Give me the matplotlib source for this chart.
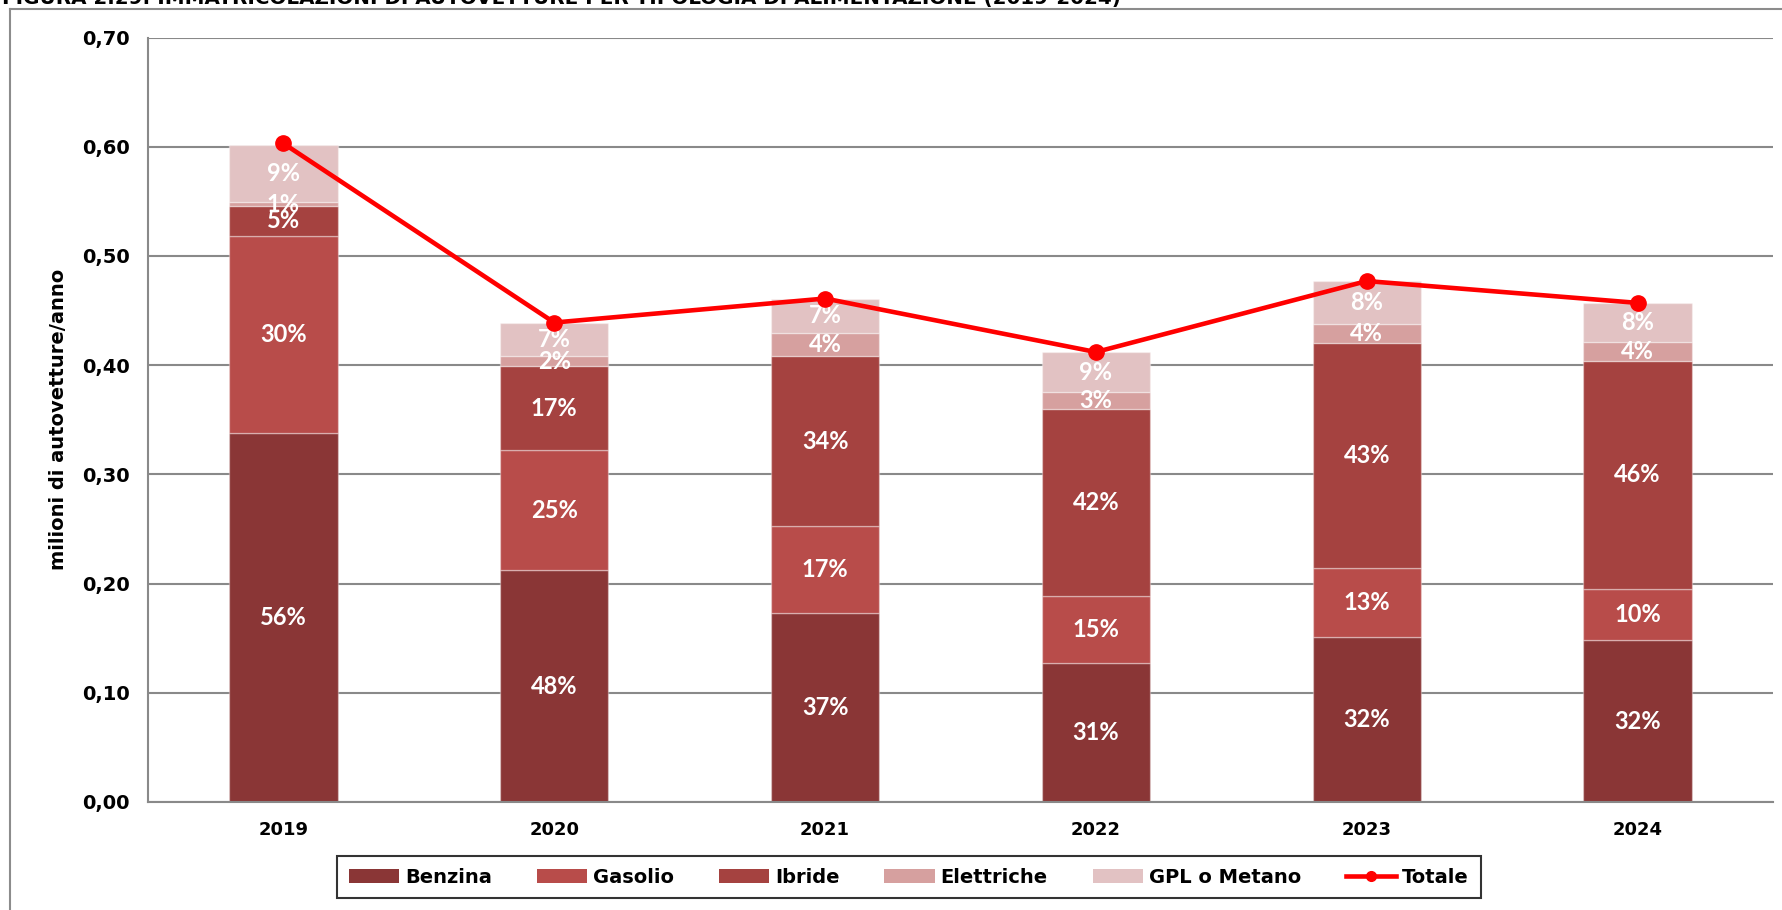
import numpy as np
import matplotlib.pyplot as plt
from matplotlib.patches import Patch
from matplotlib.lines import Line2D
from matplotlib.ticker import FuncFormatter

anni = ['2019', '2020', '2021', '2022', '2023', '2024']

# milioni di autovetture per alimentazione
benzina = [0.338, 0.212, 0.173, 0.127, 0.151, 0.148]
gasolio = [0.180, 0.110, 0.080, 0.062, 0.063, 0.047]
ibride = [0.028, 0.077, 0.155, 0.171, 0.206, 0.209]
elettriche = [0.003, 0.009, 0.021, 0.015, 0.018, 0.017]
gpl_metano = [0.053, 0.031, 0.032, 0.037, 0.039, 0.036]
totale = [0.603, 0.439, 0.461, 0.412, 0.477, 0.457]

pct_benzina = ['56%', '48%', '37%', '31%', '32%', '32%']
pct_gasolio = ['30%', '25%', '17%', '15%', '13%', '10%']
pct_ibride = ['5%', '17%', '34%', '42%', '43%', '46%']
pct_elettriche = ['1%', '2%', '4%', '3%', '4%', '4%']
pct_gpl = ['9%', '7%', '7%', '9%', '8%', '8%']

serie = [
    ('Benzina', benzina, pct_benzina, '#8a3636'),
    ('Gasolio', gasolio, pct_gasolio, '#b84c4a'),
    ('Ibride', ibride, pct_ibride, '#a54240'),
    ('Elettriche', elettriche, pct_elettriche, '#d6a09f'),
    ('GPL o Metano', gpl_metano, pct_gpl, '#e2c2c3'),
]

plt.rcParams['font.family'] = 'DejaVu Sans'

fig = plt.figure(figsize=(17.82, 9.10), dpi=100)
ax = fig.add_axes([148 / 1782, 1 - 802 / 910, (1773 - 148) / 1782, (802 - 37.5) / 910])

x = np.arange(len(anni))
bottom = np.zeros(len(anni))
for nome, valori, etichette, colore in serie:
    valori = np.array(valori)
    ax.bar(x, valori, width=0.4, bottom=bottom, color=colore,
           edgecolor=(1, 1, 1, 0.35), linewidth=1, zorder=2)
    for xi, b, v, et in zip(x, bottom, valori, etichette):
        ax.text(xi, b + v / 2, et, ha='center', va='center', color='white',
                fontsize=17, fontweight='bold', family=['Lato', 'DejaVu Sans'], zorder=4)
    bottom = bottom + valori

ax.plot(x, totale, color='#ff0000', lw=3.3, marker='o', markersize=11, zorder=5)

ax.set_xlim(-0.5, len(anni) - 0.5)
ax.set_ylim(0, 0.70)
ax.set_yticks(np.arange(0, 0.71, 0.1))
ax.yaxis.set_major_formatter(FuncFormatter(lambda v, p: f'{v:.2f}'.replace('.', ',')))
ax.set_xticks(x)
ax.set_xticklabels(anni)
ax.tick_params(axis='y', length=0, pad=13, labelsize=14)
ax.tick_params(axis='x', length=0, pad=14, labelsize=13)
for lab in ax.get_xticklabels() + ax.get_yticklabels():
    lab.set_fontweight('bold')

ax.grid(axis='y', color='#898989', lw=1.5, zorder=0)
ax.set_axisbelow(True)
for s in ['top', 'right']:
    ax.spines[s].set_visible(False)
for s in ['left', 'bottom']:
    ax.spines[s].set_color('#898989')
    ax.spines[s].set_linewidth(1.5)

ax.set_ylabel('milioni di autovetture/anno', fontsize=14, fontweight='bold', labelpad=10)

handles = [Patch(facecolor=c, label=n) for n, _, _, c in serie]
handles.append(Line2D([], [], color='#ff0000', lw=3.3, marker='o', markersize=7, label='Totale'))
leg = fig.legend(handles=handles, loc='center', bbox_to_anchor=(0.510, 0.036), ncol=6,
                 frameon=True, fancybox=False, edgecolor='black',
                 handlelength=2.6, handleheight=0.7, columnspacing=2.3, handletextpad=0.3,
                 borderpad=0.6, prop={'weight': 'bold', 'size': 14})
leg.get_frame().set_linewidth(1.5)

# cornice della figura e titolo tagliato in alto
fig.add_artist(Line2D([10 / 1782, 10 / 1782], [0, 1 - 9 / 910], color='#8c8c8c', lw=1.5))
fig.add_artist(Line2D([10 / 1782, 1], [1 - 9 / 910, 1 - 9 / 910], color='#8c8c8c', lw=1.5))
fig.text(2 / 1782, 1 - 4 / 910,
         'FIGURA 2.29: IMMATRICOLAZIONI DI AUTOVETTURE PER TIPOLOGIA DI ALIMENTAZIONE (2019-2024)',
         fontsize=14.3, fontweight='bold', va='baseline', ha='left')

fig.savefig('out.png', dpi=100, facecolor='white')
